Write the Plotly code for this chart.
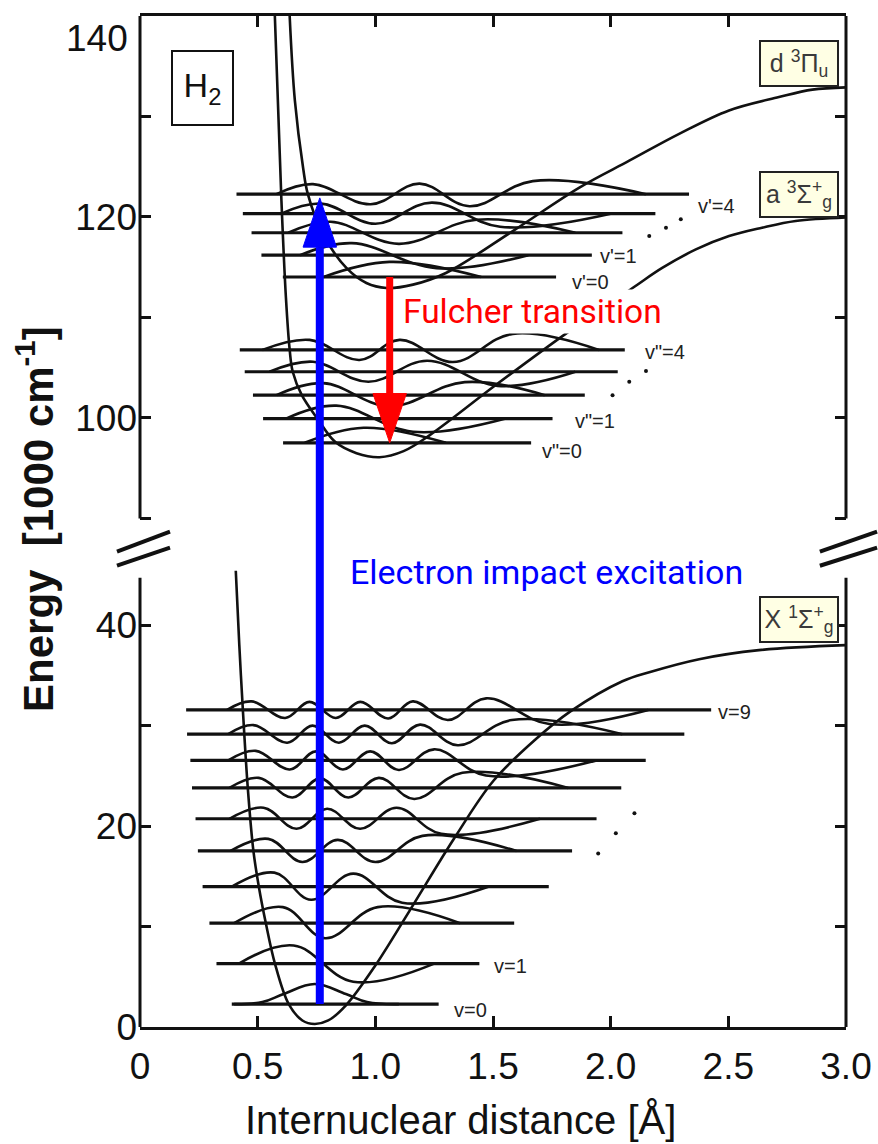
import plotly.graph_objects as go

# ------------------------------------------------------------------ axis break
Y_SPAN = 100.6           # total height of the (single) y axis in axis units
LOW_TOP = 44.7           # top of lower part (1000 cm-1)
UP_LOW, UP_HIGH = 90, 140
OFFSET = UP_HIGH - Y_SPAN  # upper part is shifted down by this amount


def lo(e):
    return e


def up(e):
    return e - OFFSET


# ------------------------------------------------------------------ potentials
X_pot_R = [0.407, 0.422, 0.437, 0.458, 0.482, 0.505, 0.535, 0.573, 0.632, 0.69, 0.742,
           0.80, 0.876, 0.995, 1.146, 1.336, 1.502, 1.68, 1.829, 2.05, 2.164, 2.376, 2.63, 3.0]
X_pot_E = [45.4, 38.0, 31.6, 23.8, 17.5, 13.96, 10.3, 6.34, 2.28, 0.65, 0.3,
           0.65, 2.18, 5.94, 11.58, 18.8, 24.5, 28.6, 31.4, 34.4, 35.3, 36.6, 37.5, 38.0]

d_pot_R = [0.636, 0.658, 0.693, 0.713, 0.778, 0.877, 0.962, 1.047, 1.16, 1.30, 1.584,
           1.867, 2.079, 2.291, 2.503, 2.715, 2.857, 3.0]
d_pot_E = [140, 131.6, 124.9, 122.3, 118.27, 114.93, 113.43, 112.93, 113.27, 114.43, 118.6,
           122.93, 125.6, 128.27, 130.6, 131.93, 132.67, 132.9]

a_pot_R = [0.573, 0.601, 0.62, 0.636, 0.649, 0.687, 0.755, 0.83, 0.92, 1.018, 1.12, 1.23,
           1.513, 1.81, 2.093, 2.219, 2.362, 2.503, 2.643, 2.786, 3.0]
a_pot_E = [140, 121.6, 112.0, 106.8, 104.6, 102.3, 99.9, 97.6, 96.5, 96.1, 96.7, 98.27,
           103.3, 108.4, 112.93, 114.93, 116.77, 118.1, 118.93, 119.6, 119.95]

# ------------------------------------------------------------------ vibrational levels
X_lev_E = [2.28, 6.31, 10.33, 13.96, 17.52, 20.72, 23.79, 26.53, 29.14, 31.55]
X_lev_R0 = [0.39, 0.325, 0.295, 0.266, 0.246, 0.236, 0.221, 0.214, 0.20, 0.196]
X_lev_R1 = [1.269, 1.442, 1.59, 1.737, 1.836, 1.94, 2.045, 2.149, 2.313, 2.427]

d_lev_E = [114.03, 116.2, 118.43, 120.33, 122.27]
d_lev_R0 = [0.607, 0.516, 0.474, 0.437, 0.41]
d_lev_R1 = [1.768, 1.92, 2.05, 2.19, 2.333]

a_lev_E = [97.53, 99.93, 102.27, 104.6, 106.77]
a_lev_R0 = [0.608, 0.523, 0.48, 0.445, 0.424]
a_lev_R1 = [1.662, 1.753, 1.89, 2.03, 2.06]

# ------------------------------------------------------------------ wavefunctions (extrema)
X_wf_R = [
    [0.52, 0.61, 0.742, 0.875, 0.965],
    [0.653, 0.906],
    [0.607, 0.787, 1.01],
    [0.571, 0.727, 0.906, 1.114],
    [0.545, 0.69, 0.84, 1.0, 1.20],
    [0.525, 0.665, 0.795, 0.935, 1.09, 1.28],
    [0.505, 0.648, 0.765, 0.885, 1.015, 1.165, 1.37],
    [0.492, 0.636, 0.748, 0.862, 0.978, 1.10, 1.25, 1.47],
    [0.482, 0.626, 0.733, 0.845, 0.955, 1.07, 1.19, 1.35, 1.58],
    [0.474, 0.617, 0.72, 0.832, 0.936, 1.055, 1.159, 1.308, 1.471, 1.739],
]
X_wf_A = [
    [0.2, 1.0, 2.0, 1.0, 0.2],
    [1.8, -1.8],
    [1.6, -1.5, 1.6],
    [1.4, -1.3, 1.3, -1.6],
    [1.2, -1.1, 1.1, -1.1, 1.5],
    [1.1, -1.0, 1.0, -1.0, 1.1, -1.5],
    [1.0, -0.95, 0.95, -0.95, 1.0, -1.1, 1.5],
    [0.95, -0.9, 0.9, -0.9, 0.9, -0.95, 1.1, -1.5],
    [0.9, -0.85, 0.85, -0.85, 0.85, -0.9, 0.95, -1.1, 1.4],
    [0.85, -0.8, 0.8, -0.8, 0.8, -0.85, 0.85, -1.0, 1.15, -1.4],
]
X_wf_tail_l = [0.40, 0.42, 0.40, 0.39, 0.385, 0.38, 0.38, 0.375, 0.375, 0.37]
X_wf_tail_r = [1.10, 1.25, 1.36, 1.48, 1.60, 1.70, 1.82, 1.94, 2.05, 2.16]

d_wf_R = [
    [1.06],
    [0.90, 1.26],
    [0.81, 1.10, 1.43],
    [0.77, 1.00, 1.24, 1.53],
    [0.735, 0.98, 1.188, 1.40, 1.669],
]
d_wf_A = [
    [1.5],
    [1.2, -1.3],
    [1.1, -1.1, 1.3],
    [1.0, -1.0, 1.1, -1.3],
    [1.0, -1.0, 1.05, -1.2, 1.3],
]
d_wf_tail_l = [0.78, 0.68, 0.63, 0.60, 0.58]
d_wf_tail_r = [1.45, 1.65, 1.85, 2.0, 2.15]

a_wf_R = [
    [0.95],
    [0.834, 1.16],
    [0.778, 1.06, 1.38],
    [0.735, 0.97, 1.22, 1.52],
    [0.721, 0.933, 1.103, 1.33, 1.584],
]
a_wf_A = [
    [1.5],
    [1.3, -1.3],
    [1.2, -1.1, 1.3],
    [1.0, -1.0, 1.1, -1.4],
    [1.0, -1.0, 1.0, -1.2, 1.6],
]
a_wf_tail_l = [0.70, 0.62, 0.58, 0.55, 0.52]
a_wf_tail_r = [1.30, 1.55, 1.72, 1.85, 1.95]

# ------------------------------------------------------------------ transitions
blue_R, blue_from, blue_to = 0.764, 2.28, 121.9     # electron impact (lower -> upper)
red_R, red_from, red_to = 1.061, 114.03, 97.53      # Fulcher (upper d -> a)

# ------------------------------------------------------------------ labels
vlab_text = ["v=9", "v=1", "v=0", "v'=4", "v'=1", "v'=0", 'v"=4', 'v"=1', 'v"=0']
vlab_R = [2.452, 1.502, 1.328, 2.367, 1.952, 1.833, 2.143, 1.846, 1.706]
vlab_E = [31.3, 6.1, 1.7, 121.1, 116.1, 113.5, 106.6, 99.7, 96.7]
vlab_upper = [False, False, False, True, True, True, True, True, True]

dots_R = [2.164, 2.235, 2.298, 2.008, 2.079, 2.15, 1.947, 2.022, 2.101]
dots_E = [118.1, 118.93, 119.77, 102.27, 103.6, 104.67, 17.26, 19.28, 21.26]
dots_upper = [True, True, True, True, True, True, False, False, False]

x_ticks = [0, 0.5, 1.0, 1.5, 2.0, 2.5, 3.0]
x_ticktext = ["0", "0.5", "1.0", "1.5", "2.0", "2.5", "3.0"]
y_major_low = [0, 20, 40]
y_minor_low = [10, 30]
y_major_up = [100, 120]
y_minor_up = [90, 110, 130, 140]
y_top_label = 140

# ------------------------------------------------------------------ build
BLACK = "#111111"
fig = go.Figure()


def add_curve(R, E, f, width=2.6):
    fig.add_trace(go.Scatter(x=R, y=[f(e) for e in E], mode="lines",
                             line=dict(color=BLACK, width=width, shape="spline", smoothing=1.0),
                             hoverinfo="skip"))


def add_levels(E, R0, R1, f):
    xs, ys = [], []
    for e, a, b in zip(E, R0, R1):
        xs += [a, b, None]
        ys += [f(e), f(e), None]
    fig.add_trace(go.Scatter(x=xs, y=ys, mode="lines",
                             line=dict(color=BLACK, width=3.2), hoverinfo="skip"))


def add_waves(E, Rl, Al, tl, tr, f):
    xs, ys = [], []
    for e, rr, aa, a, b in zip(E, Rl, Al, tl, tr):
        xs += [a] + rr + [b, None]
        ys += [f(e)] + [f(e + d) for d in aa] + [f(e), None]
    fig.add_trace(go.Scatter(x=xs, y=ys, mode="lines",
                             line=dict(color=BLACK, width=2.6, shape="spline", smoothing=1.1),
                             hoverinfo="skip"))


add_curve(X_pot_R, X_pot_E, lo)
add_curve(d_pot_R, d_pot_E, up)
add_curve(a_pot_R, a_pot_E, up)

add_waves(X_lev_E, X_wf_R, X_wf_A, X_wf_tail_l, X_wf_tail_r, lo)
add_waves(d_lev_E, d_wf_R, d_wf_A, d_wf_tail_l, d_wf_tail_r, up)
add_waves(a_lev_E, a_wf_R, a_wf_A, a_wf_tail_l, a_wf_tail_r, up)

add_levels(X_lev_E, X_lev_R0, X_lev_R1, lo)
add_levels(d_lev_E, d_lev_R0, d_lev_R1, up)
add_levels(a_lev_E, a_lev_R0, a_lev_R1, up)

fig.add_trace(go.Scatter(x=dots_R, y=[up(e) if u else lo(e) for e, u in zip(dots_E, dots_upper)],
                         mode="markers", marker=dict(color=BLACK, size=4), hoverinfo="skip"))

# arrows
HEAD_W = 0.071   # half width of arrow head (Å)
HEAD_H = 4.9     # arrow head length (axis units)


def add_arrow(R, y0, y1, color, width):
    sgn = 1 if y1 > y0 else -1
    base = y1 - sgn * HEAD_H
    fig.add_trace(go.Scatter(x=[R, R], y=[y0, base], mode="lines",
                             line=dict(color=color, width=width), hoverinfo="skip"))
    fig.add_trace(go.Scatter(x=[R - HEAD_W, R + HEAD_W, R, R - HEAD_W],
                             y=[base, base, y1, base], mode="lines", fill="toself",
                             fillcolor=color, line=dict(color=color, width=1), hoverinfo="skip"))


add_arrow(blue_R, lo(blue_from), up(blue_to), "#0000FF", 8)
add_arrow(red_R, up(red_from), up(red_to), "#FF0000", 7)

# ------------------------------------------------------------------ frame pieces
shapes = []
for xd in (0, 1):
    shapes.append(dict(type="line", xref="x domain", yref="y", x0=xd, x1=xd,
                       y0=0, y1=LOW_TOP, line=dict(color=BLACK, width=3)))
    shapes.append(dict(type="line", xref="x domain", yref="y", x0=xd, x1=xd,
                       y0=up(UP_LOW), y1=Y_SPAN, line=dict(color=BLACK, width=3)))
# break marks "//"
for x0, x1 in ((-0.0326, 0.0425), (0.963, 1.044)):
    shapes.append(dict(type="line", xref="paper", yref="y", x0=x0, x1=x1,
                       y0=47.3, y1=49.3, line=dict(color=BLACK, width=4)))
    shapes.append(dict(type="line", xref="paper", yref="y", x0=x0, x1=x1,
                       y0=45.9, y1=47.7, line=dict(color=BLACK, width=4)))

# ------------------------------------------------------------------ annotations
ann = []
FONT = "Liberation Sans, Arial, sans-serif"
for t, r, e, u in zip(vlab_text, vlab_R, vlab_E, vlab_upper):
    ann.append(dict(x=r, y=up(e) if u else lo(e), xref="x", yref="y", text=t, showarrow=False,
                    xanchor="left", yanchor="middle",
                    bgcolor="white" if t == "v'=0" else "rgba(0,0,0,0)",
                    borderpad=0, font=dict(family=FONT, size=20, color="#222")))

ann.append(dict(x=1.103, y=up(110.6), xref="x", yref="y", text="Fulcher transition",
                showarrow=False, xanchor="left", yanchor="middle", bgcolor="white", borderpad=2,
                font=dict(family="Roboto, Liberation Sans, sans-serif", size=33.5, color="#FF0000")))
ann.append(dict(x=0.8825, y=45.3, xref="x", yref="y", text="Electron impact excitation",
                showarrow=False, xanchor="left", yanchor="middle",
                font=dict(family="Roboto, Liberation Sans, sans-serif", size=34, color="#0000FF")))

BOX_BG = "#FFFFE4"
for txt, r, e, u in (("d <sup>3</sup>Π<sub>u</sub>", 2.80, 135.25, True),
                     ("a <sup>3</sup>Σ<sup>+</sup><sub>g</sub>", 2.80, 122.25, True),
                     ("X <sup>1</sup>Σ<sup>+</sup><sub>g</sub>", 2.80, 40.5, False)):
    ann.append(dict(x=r, y=up(e) if u else lo(e), xref="x", yref="y", text=txt, showarrow=False,
                    xanchor="center", yanchor="middle", width=74, height=41,
                    bgcolor=BOX_BG, bordercolor="#222", borderwidth=2, borderpad=1,
                    font=dict(family=FONT, size=25, color="#3a3a3a")))

ann.append(dict(x=0.266, y=up(132.8), xref="x", yref="y", text="H<sub>2</sub>", showarrow=False,
                xanchor="center", yanchor="middle", width=57, height=70,
                bgcolor="white", bordercolor=BLACK, borderwidth=2, borderpad=1,
                font=dict(family=FONT, size=34, color=BLACK)))

# top tick label "140" (placed just below the frame corner)
ann.append(dict(x=-0.0142, y=up(y_top_label), xref="paper", yref="y", text=str(y_top_label),
                showarrow=False, xanchor="right", yanchor="middle", yshift=-22,
                font=dict(family=FONT, size=37, color=BLACK)))

# axis titles
ann.append(dict(x=-0.1487, y=0.5025, xref="paper", yref="paper", textangle=-90,
                text="<b>Energy  [1000 cm<sup>-1</sup>]</b>", showarrow=False,
                xanchor="center", yanchor="middle",
                font=dict(family=FONT, size=42, color=BLACK)))
ann.append(dict(x=0.4533, y=-0.092, xref="paper", yref="paper",
                text="Internuclear distance [Å]", showarrow=False,
                xanchor="center", yanchor="middle",
                font=dict(family=FONT, size=40, color=BLACK)))

fig.update_layout(
    width=878, height=1144,
    margin=dict(l=140, r=32, t=16, b=117),
    paper_bgcolor="white", plot_bgcolor="white",
    showlegend=False,
    font=dict(family=FONT, color=BLACK),
    shapes=shapes, annotations=ann,
)
TICK = dict(ticks="inside", ticklen=11, tickwidth=2.5, tickcolor=BLACK)
fig.update_xaxes(range=[0, 3], tickvals=x_ticks, ticktext=x_ticktext, **TICK,
                 showline=True, linewidth=3, linecolor=BLACK, mirror="ticks",
                 showgrid=False, zeroline=False, ticklabelstandoff=5, automargin=False,
                 tickfont=dict(family=FONT, size=37, color=BLACK))
fig.update_yaxes(range=[0, Y_SPAN],
                 tickvals=y_major_low + [up(v) for v in y_major_up],
                 ticktext=[str(v) for v in y_major_low + y_major_up], **TICK,
                 minor=dict(tickvals=y_minor_low + [up(v) for v in y_minor_up], **TICK),
                 showline=False, mirror="ticks",
                 showgrid=False, zeroline=False, ticklabelstandoff=2, automargin=False,
                 tickfont=dict(family=FONT, size=37, color=BLACK))

fig.write_html("out.html")
